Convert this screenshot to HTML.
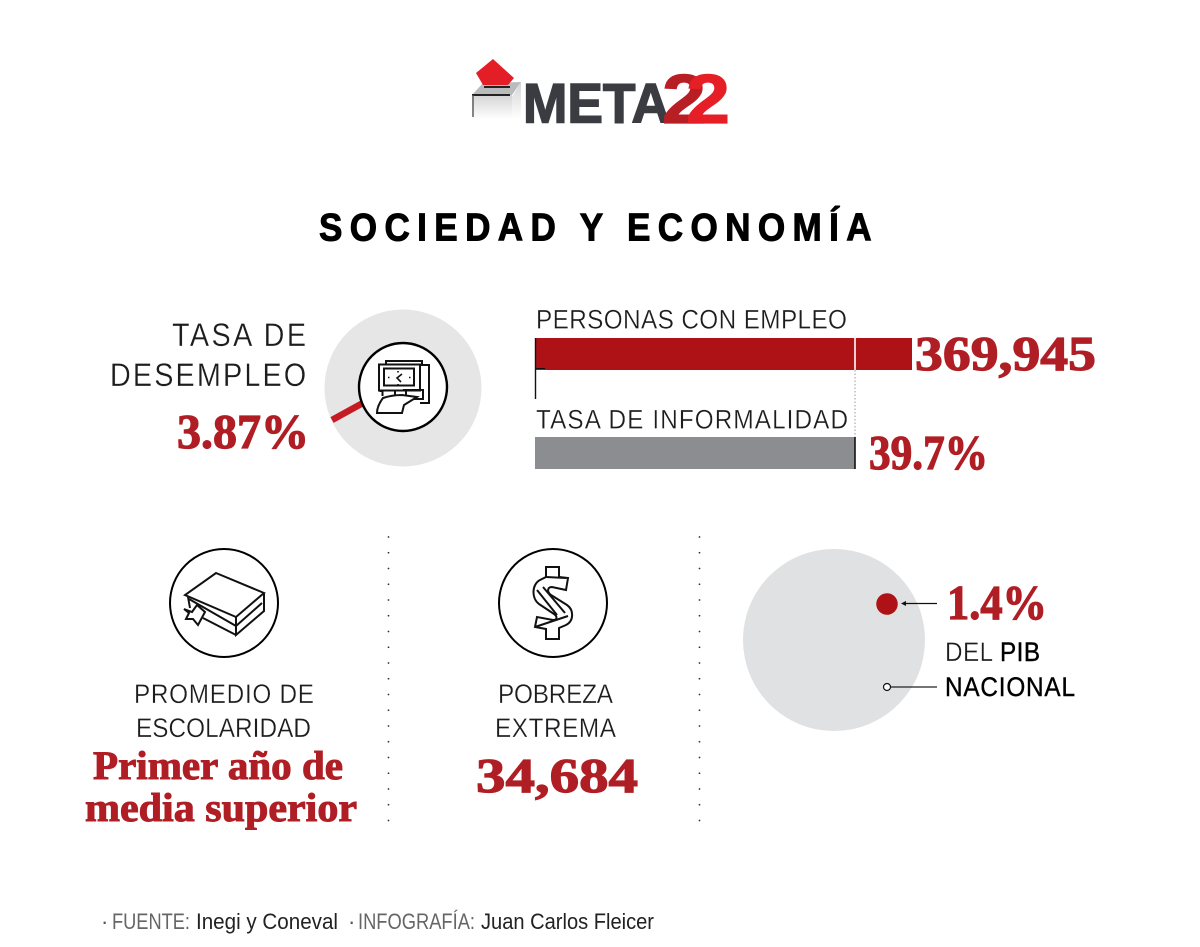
<!DOCTYPE html>
<html lang="es">
<head>
<meta charset="utf-8">
<title>Sociedad y Economía</title>
<style>
html,body{margin:0;padding:0;background:#fff;width:1200px;height:947px;overflow:hidden}
svg{display:block}
.lab{font-family:"Liberation Sans",sans-serif;fill:#1d1d1f;font-weight:400;stroke:#fff;stroke-width:.3px}
.num{font-family:"Liberation Serif",serif;font-weight:700;fill:#b01e25;stroke:#b01e25;stroke-width:1.2px}
.ic{fill:none;stroke:#111;stroke-width:2;stroke-linejoin:miter}
.ft{font-family:"Liberation Sans",sans-serif;font-size:22px}
</style>
</head>
<body>
<svg id="page" xmlns="http://www.w3.org/2000/svg" width="1200" height="947" viewBox="0 0 1200 947">
  <rect width="1200" height="947" fill="#fff"/>

  <g>
    <defs>
      <linearGradient id="boxGrad" x1="0" y1="0" x2="0" y2="1">
        <stop offset="0" stop-color="#d4d4d4"/><stop offset="1" stop-color="#ffffff"/>
      </linearGradient>
    </defs>
    <rect x="472" y="95" width="40" height="24" fill="url(#boxGrad)"/>
    <polygon points="512,97 521,82 521,119 512,119" fill="url(#boxGrad)"/>
    <polygon points="472,95 483,83 521,82 512,95" fill="#b9bbbd"/>
    <rect x="472" y="94" width="38" height="2" fill="#222"/>
    <rect x="472" y="95" width="2" height="22" fill="#555" opacity=".7"/>
    <polygon points="493,59 514,78 508,85 483,85 476,73" fill="#e31e26"/>
    <rect x="484" y="86" width="26" height="2" fill="#222"/>
    <text x="523" y="122.500" font-family="Liberation Sans, sans-serif" font-weight="700" font-size="56" fill="#3a3c42" stroke="#3a3c42" stroke-width="1.5" textLength="147" lengthAdjust="spacingAndGlyphs">META</text>
    <text x="662" y="123" font-family="Liberation Sans, sans-serif" font-weight="700" font-size="70" fill="#b81f25" stroke="#b81f25" stroke-width="1.2" textLength="44" lengthAdjust="spacingAndGlyphs">2</text>
    <text x="686" y="123" font-family="Liberation Sans, sans-serif" font-weight="700" font-size="70" fill="#e61f26" stroke="#e61f26" stroke-width="1.2" textLength="44" lengthAdjust="spacingAndGlyphs">2</text>
  </g>

  <text transform="translate(319,240.500) scale(.9,1)" font-family="Liberation Sans, sans-serif" font-weight="700" font-size="39" fill="#000" stroke="#000" stroke-width="1" textLength="614" lengthAdjust="spacing">SOCIEDAD Y ECONOMÍA</text>

  <!-- desempleo -->
  <text class="lab" transform="translate(172,346) scale(.9,1)" font-size="32" textLength="149" lengthAdjust="spacing">TASA DE</text>
  <text class="lab" transform="translate(110,386) scale(.9,1)" font-size="32" textLength="218" lengthAdjust="spacing">DESEMPLEO</text>
  <text class="num" x="177" y="448" font-size="49" textLength="132" lengthAdjust="spacingAndGlyphs">3.87%</text>
  <g id="pie"></g>
  <g>
    <circle cx="403" cy="387" r="44" fill="#fff" stroke="#000" stroke-width="2.4"/>
    <g class="ic">
      <rect x="379" y="364.500" width="41" height="26"/>
      <rect x="384" y="368.500" width="30" height="17"/>
      <path d="M386 364.500v-3.500h36v3.500M420 365h9v38h-9M379.500 391h3v5M395 391v7M406 391v6M403 390h20v9h-14"/>
      <path d="M402 374l-5 4 4 4" stroke-width="1.600"/>
      <path d="M398 371v1.500M398 384v1.500M388 377.500h1.500M409 377.500h1.500" stroke-width="1.600"/>
      <path d="M383 398c6-2 12-3 19-3l15 2-13 8-2 8h-25c0-5 3-11 6-15z" fill="#fff"/>
    </g>
  </g>

  <!-- barras -->
  <text class="lab" transform="translate(536,328.500) scale(.9,1)" font-size="27" textLength="345.500" lengthAdjust="spacing">PERSONAS CON EMPLEO</text>
  <text class="lab" transform="translate(536,428.500) scale(.9,1)" font-size="27" textLength="346.700" lengthAdjust="spacing">TASA DE INFORMALIDAD</text>
  <g id="bars"></g>
  <text class="num" x="915" y="370" font-size="49" textLength="181" lengthAdjust="spacingAndGlyphs">369,945</text>
  <text class="num" x="869" y="469" font-size="49" textLength="119" lengthAdjust="spacingAndGlyphs">39.7%</text>

  <!-- separadores -->
  <g id="sep"></g>

  <!-- escolaridad -->
  <g>
    <circle cx="224" cy="603" r="54" fill="none" stroke="#000" stroke-width="2"/>
    <g class="ic">
      <polygon points="216,573 264,593 236,617 185,595"/>
      <path d="M236,617V635L264,611V593M236,626L262,603M188,597l2,11M189,599L236,626M203,618L236,635"/>
      <polygon points="192,612 197,605 205,612 198,625 193,619 186,619 189,613 184,609" fill="#fff"/>
    </g>
  </g>
  <text class="lab" transform="translate(134,703) scale(.9,1)" font-size="27" textLength="200" lengthAdjust="spacing">PROMEDIO DE</text>
  <text class="lab" transform="translate(136,737) scale(.9,1)" font-size="27" textLength="194.400" lengthAdjust="spacing">ESCOLARIDAD</text>
  <text class="num" x="93" y="779" font-size="40" style="stroke-width:1" textLength="250" lengthAdjust="spacingAndGlyphs">Primer año de</text>
  <text class="num" x="85" y="821" font-size="40" style="stroke-width:1" textLength="272" lengthAdjust="spacingAndGlyphs">media superior</text>

  <!-- pobreza -->
  <g>
    <circle cx="553" cy="603" r="54" fill="none" stroke="#000" stroke-width="2"/>
    <g class="ic">
      <path d="M546,567H559V577L568,578 566,590 552,587C547,587 547,592 551,595L567,605C574,610 574,621 566,625L559,628V639H546V629L535,627 537,617 553,620C558,620 557,616 554,614L539,604C531,598 532,584 540,580L546,577Z"/>
      <path d="M537,590L557,615M543,587L565,613M535,627L568,616M546,577L566,578"/>
    </g>
  </g>
  <text class="lab" transform="translate(498,703) scale(.9,1)" font-size="27" textLength="127.800" lengthAdjust="spacing">POBREZA</text>
  <text class="lab" transform="translate(495,737) scale(.9,1)" font-size="27" textLength="134.400" lengthAdjust="spacing">EXTREMA</text>
  <text class="num" x="476" y="792" font-size="49" textLength="162" lengthAdjust="spacingAndGlyphs">34,684</text>

  <!-- PIB -->
  <g id="gdp"></g>
  <g>
    <line x1="937" y1="603.500" x2="905" y2="603.500" stroke="#111" stroke-width="1.300"/>
    <polygon points="901,603.500 906,601 906,606" fill="#111"/>
    <line x1="891" y1="687" x2="937" y2="687" stroke="#222" stroke-width="1.300"/>
    <circle cx="887" cy="687" r="3.500" fill="#fff" stroke="#111" stroke-width="1.200"/>
  </g>
  <text class="num" x="947" y="619" font-size="49" textLength="100" lengthAdjust="spacingAndGlyphs">1.4%</text>
  <text class="lab" transform="translate(945,661) scale(.9,1)" font-size="27" textLength="105.600" lengthAdjust="spacing">DEL <tspan style="stroke:#000;stroke-width:.4px;fill:#000">PIB</tspan></text>
  <text class="lab" transform="translate(945,696) scale(.9,1)" font-size="27" style="stroke:#000;stroke-width:.4px;fill:#000" textLength="144.400" lengthAdjust="spacing">NACIONAL</text>

  <!-- footer -->
  <text class="ft" x="101" y="929" fill="#555">·</text>
  <text class="ft" x="112" y="929" fill="#666" textLength="78" lengthAdjust="spacingAndGlyphs">FUENTE:</text>
  <text class="ft" x="196" y="929" fill="#222" textLength="142" lengthAdjust="spacingAndGlyphs">Inegi y Coneval</text>
  <text class="ft" x="348" y="929" fill="#555">·</text>
  <text class="ft" x="358" y="929" fill="#666" textLength="117" lengthAdjust="spacingAndGlyphs">INFOGRAFÍA:</text>
  <text class="ft" x="481" y="929" fill="#222" textLength="173" lengthAdjust="spacingAndGlyphs">Juan Carlos Fleicer</text>
</svg>

<script>
var employedValue = [369945];
var informalityValue = [39.7];
var unemploymentValue = [3.87];
var gdpValue = [1.4];

var NS = 'http://www.w3.org/2000/svg';
function mk(parent, tag, attrs) {
  var e = document.createElementNS(NS, tag);
  for (var k in attrs) { e.setAttribute(k, attrs[k]); }
  parent.appendChild(e);
  return e;
}

/* Axis functions */
var barX0 = 535;
function xEmployed(v) { return 377 * v / 369945; }
function xInformal(v) { return 320 * v / 39.7; }
function sliceWidth(v) { return 1.7 * v; }
function gdpRadius(v) { return 91 * Math.sqrt(v / 100); }

/* Pie */
var pie = document.getElementById('pie');
var pieBg = mk(pie, 'circle', {cx: 403, cy: 388, r: 78.5, fill: '#e6e6e7'});


var wedge = mk(pie, 'line', {x1: 403, y1: 381, x2: 332, y2: 420, stroke: '#c41c22', 'stroke-width': sliceWidth(unemploymentValue[0])});



/* Bars */
var bars = document.getElementById('bars');
var employedW = xEmployed(employedValue[0]);
var informalW = xInformal(informalityValue[0]);
var bar1 = mk(bars, 'rect', {x: barX0, y: 338, width: employedW, height: 32, fill: '#ae1217'});


var bar2 = mk(bars, 'rect', {x: barX0, y: 437, width: informalW, height: 32, fill: '#8c8d90'});


var axis = mk(bars, 'line', {x1: barX0 + .5, y1: 338, x2: barX0 + .5, y2: 399, stroke: '#111', 'stroke-width': 1.4});


var tick = mk(bars, 'line', {x1: barX0, y1: 368.5, x2: barX0 + 10, y2: 368.5, stroke: '#111', 'stroke-width': 1});


var mark = mk(bars, 'line', {x1: barX0 + informalW, y1: 338, x2: barX0 + informalW, y2: 370, stroke: '#fff', 'stroke-width': 1.6});


var dotted = mk(bars, 'line', {x1: barX0 + informalW, y1: 370, x2: barX0 + informalW, y2: 437, stroke: '#999', 'stroke-width': 1, 'stroke-dasharray': '1.5 2'});


var end = mk(bars, 'line', {x1: barX0 + informalW, y1: 437, x2: barX0 + informalW, y2: 469, stroke: '#111', 'stroke-width': 1.6});



/* Separators */
var sep = document.getElementById('sep');
[388.5, 699.5].forEach(function (sx) {
  for (var i = 0; i < 19; i++) {
    var d = mk(sep, 'circle', {cx: sx, cy: 537 + i * 15.75, r: .9, fill: '#333'});
    
    
  }
});

/* GDP */
var gdp = document.getElementById('gdp');
var gdpBg = mk(gdp, 'circle', {cx: 834, cy: 640, r: 91, fill: '#e0e1e3'});


var gdpDot = mk(gdp, 'circle', {cx: 887, cy: 604, r: gdpRadius(gdpValue[0]), fill: '#ae1217'});


</script>
</body>
</html>
